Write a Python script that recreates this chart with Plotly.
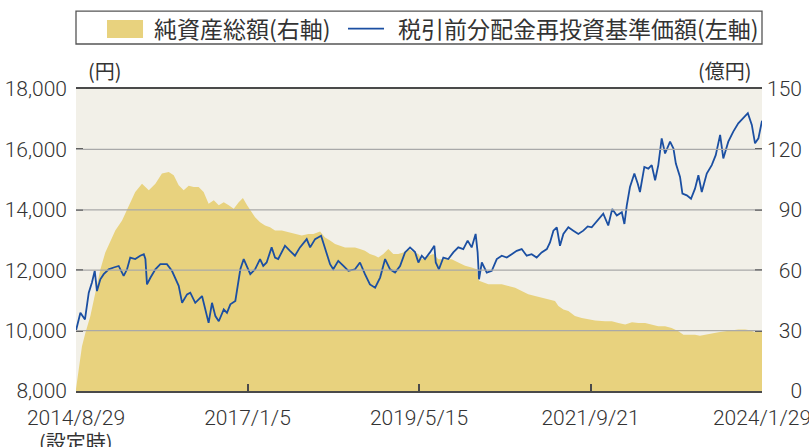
import pandas as pd
import plotly.graph_objects as go

launch = "2014-08-29"
tick_dates = ["2014-08-29", "2017-01-05", "2019-05-15", "2021-09-21", "2024-01-29"]
tick_labels = ["2014/8/29", "2017/1/5", "2019/5/15", "2021/9/21", "2024/1/29"]
left_ticks = [8000, 10000, 12000, 14000, 16000, 18000]
left_labels = ["8,000", "10,000", "12,000", "14,000", "16,000", "18,000"]
right_ticks = [0, 30, 60, 90, 120, 150]
FS = "\u2007"  # figure space, used to right-align the right-axis labels
right_labels = [FS + FS + "0", FS + "30", FS + "60", FS + "90", "120", "150"]

# 税引前分配金再投資基準価額 (円) : days since launch / value
nav_days = [0, 22, 45, 64, 80, 94, 105, 122, 139, 164, 189, 214, 239, 256, 272, 297, 322, 340, 348, 356,
            373, 398, 423, 456, 481, 498, 515, 532, 557, 573, 598, 632, 648, 665, 682, 699, 716, 741, 757, 774,
            799, 816, 824, 841, 858, 874, 898, 923, 939, 956, 981, 998, 1014, 1032, 1048, 1073, 1098, 1123, 1157, 1174,
            1199, 1229, 1249, 1274, 1290, 1315, 1341, 1366, 1399, 1424, 1449, 1474, 1500, 1525, 1550, 1575, 1600, 1625, 1650, 1675,
            1700, 1717, 1734, 1750, 1775, 1797, 1804, 1820, 1842, 1867, 1892, 1917, 1942, 1964, 1984, 2004, 2014, 2021, 2035, 2060,
            2085, 2110, 2135, 2160, 2185, 2210, 2235, 2260, 2285, 2310, 2335, 2361, 2377, 2394, 2411, 2427, 2444, 2469, 2494, 2519,
            2544, 2566, 2586, 2603, 2628, 2644, 2669, 2689, 2712, 2737, 2750, 2762, 2778, 2800, 2817, 2828, 2850, 2870, 2887, 2904,
            2920, 2937, 2954, 2979, 2996, 3008, 3029, 3041, 3063, 3084, 3104, 3121, 3138, 3163, 3188, 3208, 3230, 3246, 3271, 3296,
            3321, 3347, 3369, 3389, 3405, 3422, 3440]
nav_values = [10000, 10590, 10370, 11255, 11590, 11980, 11310, 11700, 11870, 12030, 12090, 12140, 11810, 12030, 12420, 12370, 12480, 12530, 12370, 11530,
              11750, 12030, 12200, 12200, 11980, 11700, 11480, 10920, 11200, 11255, 10920, 11145, 10700, 10255, 10920, 10480, 10310, 10700, 10590, 10870,
              10980, 11700, 12030, 12370, 12140, 11870, 12030, 12370, 12140, 12255, 12755, 12420, 12370, 12590, 12810, 12640, 12480, 12755, 13030, 12755,
              13030, 13140, 12700, 12200, 12030, 12310, 12140, 11980, 12030, 12255, 11870, 11530, 11420, 11755, 12370, 12030, 11920, 12140, 12590, 12755,
              12600, 12255, 12480, 12370, 12590, 12810, 12255, 12030, 12420, 12370, 12590, 12755, 12700, 12980, 12755, 13200, 12590, 11700, 12255, 11920,
              11980, 12370, 12480, 12420, 12530, 12640, 12700, 12480, 12530, 12420, 12590, 12700, 12920, 13310, 13420, 12810, 13200, 13420, 13310, 13200,
              13310, 13450, 13420, 13550, 13755, 13870, 13480, 14030, 13810, 13920, 13530, 14145, 14755, 15200, 14865, 14590, 15420, 15365, 15480, 14980,
              15480, 16365, 15865, 16255, 16030, 15530, 15090, 14535, 14480, 14365, 14700, 15145, 14590, 15200, 15480, 15810, 16480, 15700, 16255, 16590,
              16865, 17030, 17200, 16810, 16200, 16365, 16950]

# 純資産総額 (億円) : days since launch / value
aum_days = [0, 14, 30, 47, 72, 97, 122, 147, 172, 197, 231, 264, 297, 331, 365, 398, 431, 465, 490, 515,
            540, 565, 590, 615, 640, 665, 691, 716, 741, 766, 791, 816, 837, 858, 883, 898, 923, 948, 973, 998,
            1032, 1065, 1098, 1132, 1165, 1190, 1224, 1249, 1274, 1299, 1324, 1349, 1374, 1399, 1424, 1449, 1474, 1500, 1516, 1541,
            1566, 1591, 1616, 1641, 1667, 1692, 1717, 1734, 1767, 1792, 1817, 1851, 1884, 1917, 1951, 1984, 2010, 2021, 2043, 2068,
            2101, 2135, 2168, 2202, 2235, 2268, 2302, 2335, 2369, 2402, 2419, 2444, 2469, 2502, 2536, 2569, 2603, 2653, 2687, 2720,
            2754, 2788, 2820, 2854, 2887, 2920, 2954, 2987, 3021, 3046, 3071, 3104, 3129, 3154, 3188, 3221, 3255, 3288, 3321, 3355,
            3380, 3405, 3430, 3440]
aum_values = [1, 12.2, 22.2, 28.8, 37.2, 48.8, 60.4, 68.8, 74.7, 79.7, 84.7, 92.2, 98.8, 103, 99.7, 103, 108, 108.8, 107.2, 102.2,
              99.7, 102, 101.3, 101.3, 98.8, 93, 94.7, 92.2, 93.8, 92.2, 90.5, 93.8, 95.8, 92.2, 88.5, 86.3, 83.8, 82.2, 81.3, 79.7,
              79.7, 78.8, 78, 77.2, 78, 78, 79.2, 76.3, 74.7, 73, 72.2, 71.3, 71.3, 71.3, 70.5, 69.7, 68, 67.2, 66.3, 68,
              70.5, 68, 68, 68.8, 70.5, 69, 68, 65.5, 67.2, 68, 65.5, 65.5, 65.5, 63.8, 62.2, 61.3, 60.5, 54.7, 53.8, 53,
              53, 53, 52.2, 51.3, 49.7, 48, 47.2, 46.3, 45.5, 44.7, 42.2, 40.5, 39.7, 37.2, 36.3, 35.5, 35, 34.7, 34.7, 33.8,
              33, 34.2, 33.8, 33.8, 33, 32.2, 32.2, 31.3, 29.7, 28, 28, 28, 27.5, 28, 28.8, 29.2, 29.7, 30.2, 30.5, 30.5,
              30.2, 29.2, 29.8, 30]

base = pd.Timestamp(launch)
nav_dates = base + pd.to_timedelta(nav_days, unit="D")
aum_dates = base + pd.to_timedelta(aum_days, unit="D")

AREA = "#E8D27E"
LINE = "#1B4FA2"
BG = "#F2F0E8"
AXIS = "#4A4A4A"
GRID = "#A9A9A9"
TXT = "#333333"
NUMFONT = "Roboto, sans-serif"
JPFONT = "Noto Sans CJK JP"
numfont = dict(family=NUMFONT, size=21, color=TXT, weight=300)

fig = go.Figure()
fig.add_trace(go.Scatter(x=aum_dates, y=aum_values, mode="lines", fill="tozeroy",
                         fillcolor=AREA, line=dict(width=0, color=AREA),
                         yaxis="y", showlegend=False, hoverinfo="skip"))
fig.add_trace(go.Scatter(x=nav_dates, y=nav_values, mode="lines",
                         line=dict(width=1.8, color=LINE),
                         yaxis="y2", showlegend=False))

# gridlines above the area
for v in right_ticks[1:-1]:
    fig.add_shape(type="line", xref="paper", x0=0, x1=1, yref="y", y0=v, y1=v,
                  line=dict(color=GRID, width=1.3), layer="above")

# custom legend
fig.add_shape(type="rect", xref="paper", yref="paper", x0=0, x1=1, y0=1.149, y1=1.258,
              line=dict(color="#555555", width=1.3), fillcolor="white", layer="above")
fig.add_shape(type="rect", xref="paper", yref="paper", x0=0.0452, x1=0.0977, y0=1.169, y1=1.2285,
              line=dict(width=0), fillcolor=AREA, layer="above")
fig.add_shape(type="line", xref="paper", yref="paper", x0=0.3965, x1=0.449, y0=1.2, y1=1.2,
              line=dict(color=LINE, width=1.8), layer="above")
fig.add_annotation(xref="paper", yref="paper", x=0.111, y=1.202, xanchor="left", yanchor="middle",
                   text="純資産総額(右軸)", showarrow=False, font=dict(family=JPFONT, size=23, color=TXT))
fig.add_annotation(xref="paper", yref="paper", x=0.4665, y=1.202, xanchor="left", yanchor="middle",
                   text="税引前分配金再投資基準価額(左軸)", showarrow=False, font=dict(family=JPFONT, size=23, color=TXT))

# unit labels
fig.add_annotation(xref="paper", yref="paper", x=0.015, y=1.06, xanchor="left", yanchor="middle",
                   text="(円)", showarrow=False, font=dict(family=JPFONT, size=20, color=TXT))
fig.add_annotation(xref="paper", yref="paper", x=0.988, y=1.06, xanchor="right", yanchor="middle",
                   text="(億円)", showarrow=False, font=dict(family=JPFONT, size=20, color=TXT))
fig.add_annotation(xref="x", yref="paper", x=launch, y=-0.166, xanchor="center", yanchor="middle",
                   text="(設定時)", showarrow=False, font=dict(family=JPFONT, size=20, color=TXT))

fig.update_layout(
    width=809, height=447,
    margin=dict(l=76, r=47, t=89, b=56),
    paper_bgcolor="white", plot_bgcolor=BG,
    showlegend=False,
    xaxis=dict(type="date", range=[tick_dates[0], tick_dates[-1]],
               tickvals=tick_dates, ticktext=tick_labels, automargin=False,
               ticks="inside", ticklen=7, tickwidth=1.5, tickcolor=AXIS,
               showline=True, mirror=True, linecolor=AXIS, linewidth=2,
               showgrid=False, zeroline=False, ticklabeloverflow="allow",
               ticklabelstandoff=7, tickfont=numfont),
    yaxis=dict(side="right", range=[0, 150], tickvals=right_ticks, ticktext=right_labels,
               automargin=False,
               ticks="inside", ticklen=7, tickwidth=2, tickcolor=AXIS,
               showgrid=False, zeroline=False, showline=False,
               ticklabelstandoff=4, ticklabeloverflow="allow",
               tickfont=numfont),
    yaxis2=dict(side="left", overlaying="y", range=[8000, 18000], automargin=False,
                tickvals=left_ticks, ticktext=left_labels,
                ticks="inside", ticklen=7, tickwidth=2, tickcolor=AXIS,
                showgrid=False, zeroline=False, showline=False,
                ticklabelstandoff=8, ticklabeloverflow="allow",
                tickfont=numfont),
)

fig.write_html("out.html", post_script="document.body.style.margin='0';",
               config={"displayModeBar": False})
